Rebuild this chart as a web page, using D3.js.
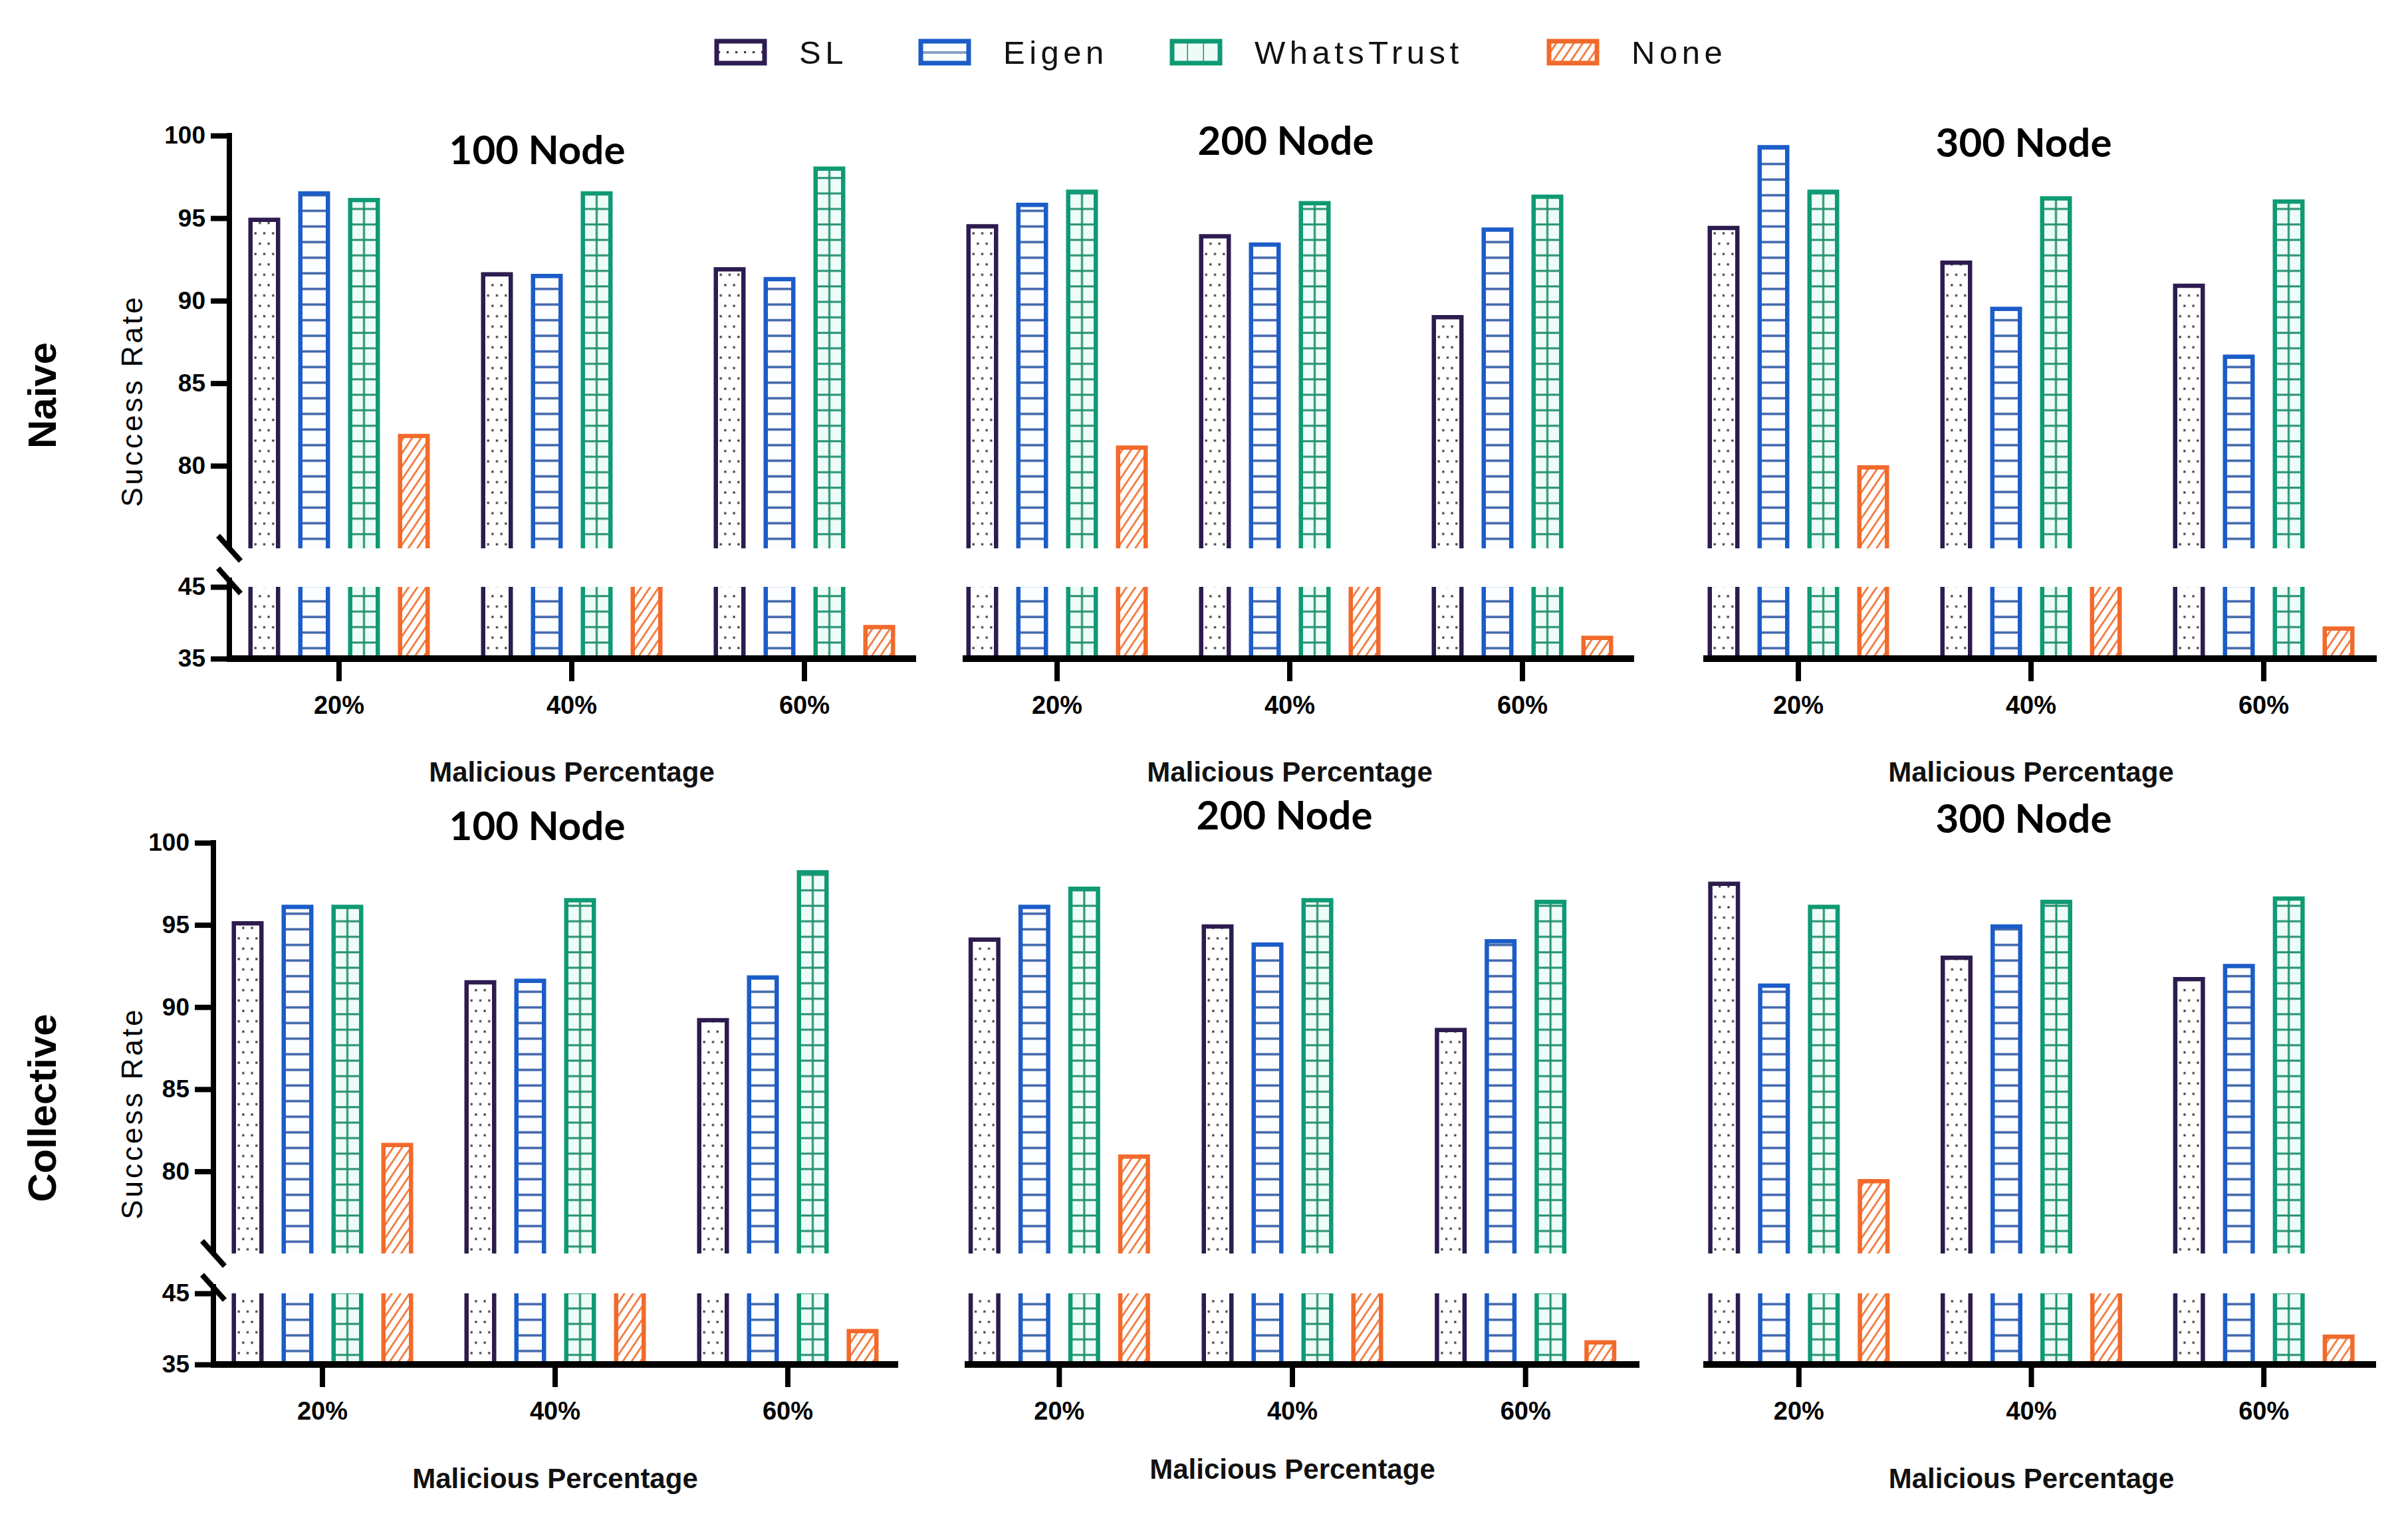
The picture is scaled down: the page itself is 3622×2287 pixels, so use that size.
<!DOCTYPE html>
<html>
<head>
<meta charset="utf-8">
<script src="https://cdn.jsdelivr.net/npm/d3@7"></script>
<style>
  body { margin: 0; background: #fff; }
  svg { display: block; }
</style>
</head>
<body>
<svg id="chart" width="3622" height="2287"></svg>
<script>
var categories = ["20%", "40%", "60%"];
var seriesNames = ["SL", "Eigen", "WhatsTrust", "None"];
var panelTitles = ["100 Node", "200 Node", "300 Node"];
var rowLabels = ["Naive", "Collective"];
var upperTicks = [80, 85, 90, 95, 100];
var lowerTicks = [35, 45];

// success rate per malicious percentage, columns: SL, Eigen, WhatsTrust, None
// None at 40% sits inside the broken part of the axis (45-75), only its lower part shows
var naive100 = [[94.9, 96.5, 96.1, 81.8], [91.6, 91.5, 96.5, 60], [91.9, 91.3, 98.0, 39.4]];
var naive200 = [[94.5, 95.8, 96.6, 81.1], [93.9, 93.4, 95.9, 60], [89.0, 94.3, 96.3, 37.9]];
var naive300 = [[94.4, 99.3, 96.6, 79.9], [92.3, 89.5, 96.2, 60], [90.9, 86.6, 96.0, 39.2]];
var coll100 = [[95.1, 96.1, 96.1, 81.6], [91.5, 91.6, 96.5, 60], [89.2, 91.8, 98.2, 39.7]];
var coll200 = [[94.1, 96.1, 97.2, 80.9], [94.9, 93.8, 96.5, 60], [88.6, 94.0, 96.4, 38.1]];
var coll300 = [[97.5, 91.3, 96.1, 79.4], [93.0, 94.9, 96.4, 60], [91.7, 92.5, 96.6, 38.9]];

var colors = { "SL": "#2c1c4f", "Eigen": "#1b5cc8", "WhatsTrust": "#0f9a74", "None": "#f26a2b" };
var barW = 48, strokeW = 6.5;

var rows = [
  { label: rowLabels[0], labelY: 595, y100: 204, y75: 825, y45: 883, y35: 991,
    panels: [
      { data: naive100, band: [335, 1385], axis: [345, 1378], titleX: 808, titleY: 247, xTitleY: 1176, yAxis: 345 },
      { data: naive200, band: [1415, 2465], axis: [1452, 2458], titleX: 1934, titleY: 233, xTitleY: 1176 },
      { data: naive300, band: [2530, 3580], axis: [2566, 3575], titleX: 3044, titleY: 236, xTitleY: 1176 }
    ] },
  { label: rowLabels[1], labelY: 1667, y100: 1268, y75: 1886, y45: 1946, y35: 2053,
    panels: [
      { data: coll100, band: [310, 1360], axis: [321, 1351], titleX: 808, titleY: 1264, xTitleY: 2239, yAxis: 321 },
      { data: coll200, band: [1418, 2470], axis: [1455, 2466], titleX: 1932, titleY: 1248, xTitleY: 2225 },
      { data: coll300, band: [2531, 3580], axis: [2566, 3574], titleX: 3044, titleY: 1253, xTitleY: 2239 }
    ] }
];

var svg = d3.select("#chart");
var defs = svg.append("defs");

function addPattern(id, w, h, bg, attrs) {
  var p = defs.append("pattern").attr("id", id).attr("patternUnits", "userSpaceOnUse")
    .attr("width", w).attr("height", h);
  for (var k in attrs) p.attr(k, attrs[k]);
  p.append("rect").attr("width", w).attr("height", h).attr("fill", bg);
  return p;
}

// ---- bar fill patterns ----
var pSL = addPattern("pat-SL", 13.3, 31.2, "#fff", { x: barW / 2 - 6.65, y: 0 });
[[6.65, 7.8], [0, 23.4], [13.3, 23.4]].forEach(function (d) {
  pSL.append("rect").attr("x", d[0] - 1.6).attr("y", d[1] - 1.6).attr("width", 3.2).attr("height", 3.2).attr("fill", "#3a3a3a");
});
var pEig = addPattern("pat-Eigen", 80, 23.5, "#fbfdff", {});
pEig.append("rect").attr("y", 10).attr("width", 80).attr("height", 3.5).attr("fill", "#3f64aa");
var pWT = addPattern("pat-WhatsTrust", 80, 23.3, "#eefcf7", {});
pWT.append("rect").attr("y", 10).attr("width", 80).attr("height", 3).attr("fill", "#23906f");
pWT.append("rect").attr("x", barW / 2 - 1.5).attr("width", 3).attr("height", 23.3).attr("fill", "#23906f");
var pNone = addPattern("pat-None", 11, 11, "#fff", { patternTransform: "rotate(34)" });
pNone.append("rect").attr("width", 2.8).attr("height", 11).attr("fill", "#f27a3c");

// ---- legend patterns (box is 72 x 33 at y 62) ----
var lSL = addPattern("leg-SL", 13, 33, "#fff", { x: 10, y: 62 });
lSL.append("rect").attr("x", 5).attr("y", 15).attr("width", 3.2).attr("height", 3.2).attr("fill", "#3a3a3a");
var lEig = addPattern("leg-Eigen", 80, 33, "#fbfdff", { y: 62 });
lEig.append("rect").attr("y", 15).attr("width", 80).attr("height", 4).attr("fill", "#8a9fc0");
var lWT = addPattern("leg-WhatsTrust", 24, 33, "#eefcf7", { x: 0, y: 62 });
lWT.append("rect").attr("x", 22.5).attr("width", 3.5).attr("height", 33).attr("fill", "#23906f");
var lNone = addPattern("leg-None", 11, 11, "#fff", { patternTransform: "rotate(34)" });
lNone.append("rect").attr("width", 2.8).attr("height", 11).attr("fill", "#f27a3c");

// ---- legend ----
var legendX = [1078, 1385, 1763, 2330];
seriesNames.forEach(function (s, i) {
  var lg = svg.append("g").attr("transform", "translate(" + legendX[i] + ",0)");
  lg.append("rect").attr("x", 0).attr("y", 62).attr("width", 72).attr("height", 33)
    .attr("fill", "url(#leg-" + s + ")").attr("stroke", colors[s]).attr("stroke-width", 7);
  lg.append("text").attr("x", 124).attr("y", 96).text(s)
    .attr("font-family", "Liberation Sans, Arial, sans-serif").attr("font-size", 49)
    .attr("letter-spacing", 6.5).attr("fill", "#111");
});

function drawBar(g, x, v, s, yU, yL) {
  var bg = g.append("g").attr("transform", "translate(" + x + ",0)");
  var segs = [];
  if (v >= 75) segs.push({ top: yU(v), bottom: yU(75), closed: true });
  if (v >= 45) segs.push({ top: yL(45), bottom: yL(35), closed: false });
  else segs.push({ top: yL(v), bottom: yL(35), closed: true });
  var l = strokeW / 2, r = barW - strokeW / 2;
  segs.forEach(function (sg) {
    bg.append("rect").attr("x", l).attr("y", sg.top).attr("width", r - l).attr("height", sg.bottom - sg.top)
      .attr("fill", "url(#pat-" + s + ")");
    var p = sg.closed
      ? "M" + l + "," + sg.bottom + "V" + sg.top + "H" + r + "V" + sg.bottom
      : "M" + l + "," + sg.bottom + "V" + sg.top + "M" + r + "," + sg.top + "V" + sg.bottom;
    bg.append("path").attr("d", p).attr("fill", "none").attr("stroke", colors[s])
      .attr("stroke-width", strokeW).attr("stroke-linejoin", "miter");
  });
}

function styleAxisText(sel, size) {
  sel.selectAll("text").attr("font-family", "Liberation Sans, Arial, sans-serif")
    .attr("font-weight", "bold").attr("font-size", size).attr("fill", "#000");
}

var xSeries = d3.scaleBand().domain(seriesNames).range([0, 300]).paddingInner(0.36).paddingOuter(0.18);

rows.forEach(function (row) {
  var yU = d3.scaleLinear().domain([75, 100]).range([row.y75, row.y100]);
  var yL = d3.scaleLinear().domain([35, 45]).range([row.y35, row.y45]);

  // row label + y axis title
  svg.append("text").attr("transform", "translate(" + 84 + "," + row.labelY + ") rotate(-90)")
    .attr("text-anchor", "middle").text(row.label)
    .attr("font-family", "Liberation Sans, Arial, sans-serif").attr("font-weight", "bold").attr("font-size", 60);
  svg.append("text").attr("transform", "translate(" + 214 + "," + (row.labelY + 8) + ") rotate(-90)")
    .attr("text-anchor", "middle").text("Success Rate").attr("letter-spacing", 4)
    .attr("font-family", "Liberation Sans, Arial, sans-serif").attr("font-size", 44);

  row.panels.forEach(function (p, pi) {
    var xGroup = d3.scaleBand().domain(categories).range(p.band);
    var off = (xGroup.bandwidth() - 300) / 2;
    var g = svg.append("g");

    p.data.forEach(function (vals, ci) {
      vals.forEach(function (v, si) {
        var s = seriesNames[si];
        drawBar(g, xGroup(categories[ci]) + off + xSeries(s), v, s, yU, yL);
      });
    });

    // x axis
    var xg = svg.append("g").attr("transform", "translate(0," + row.y35 + ")")
      .call(d3.axisBottom(xGroup).tickSize(34).tickPadding(22).tickSizeOuter(0));
    xg.select(".domain").remove();
    xg.selectAll(".tick line").attr("stroke", "#000").attr("stroke-width", 8);
    styleAxisText(xg, 38);
    svg.append("line").attr("x1", p.axis[0] - 4).attr("x2", p.axis[1]).attr("y1", row.y35).attr("y2", row.y35)
      .attr("stroke", "#000").attr("stroke-width", 10);

    // y axis with break (first panel only)
    if (p.yAxis !== undefined) {
      var ax = p.yAxis;
      var ug = svg.append("g").attr("transform", "translate(" + ax + ",0)")
        .call(d3.axisLeft(yU).tickValues(upperTicks).tickSize(28).tickPadding(8).tickFormat(d3.format("d")));
      ug.select(".domain").remove();
      ug.selectAll(".tick line").attr("stroke", "#000").attr("stroke-width", 8);
      styleAxisText(ug, 37);
      var lgx = svg.append("g").attr("transform", "translate(" + ax + ",0)")
        .call(d3.axisLeft(yL).tickValues(lowerTicks).tickSize(28).tickPadding(8).tickFormat(d3.format("d")));
      lgx.select(".domain").remove();
      lgx.selectAll(".tick line").attr("stroke", "#000").attr("stroke-width", 8);
      styleAxisText(lgx, 37);

      svg.append("line").attr("x1", ax).attr("x2", ax).attr("y1", yU(100) - 4).attr("y2", yU(75))
        .attr("stroke", "#000").attr("stroke-width", 8);
      svg.append("line").attr("x1", ax).attr("x2", ax).attr("y1", yL(45) - 14).attr("y2", yL(35))
        .attr("stroke", "#000").attr("stroke-width", 8);
      [yU(75), yL(45) - 9].forEach(function (cy) {
        svg.append("line").attr("x1", ax - 17).attr("x2", ax + 17).attr("y1", cy - 19).attr("y2", cy + 19)
          .attr("stroke", "#000").attr("stroke-width", 8);
      });
    }

    // titles
    svg.append("text").attr("x", p.titleX).attr("y", p.titleY).attr("text-anchor", "middle")
      .text(panelTitles[pi]).attr("font-family", "Lato, Open Sans, sans-serif")
      .attr("font-weight", "bold").attr("font-size", 60).attr("fill", "#000");
    svg.append("text").attr("x", xGroup("40%") + xGroup.bandwidth() / 2).attr("y", p.xTitleY)
      .attr("text-anchor", "middle").text("Malicious Percentage")
      .attr("font-family", "Liberation Sans, Arial, sans-serif").attr("font-weight", "bold")
      .attr("font-size", 42).attr("fill", "#111");
  });
});
</script>
</body>
</html>
